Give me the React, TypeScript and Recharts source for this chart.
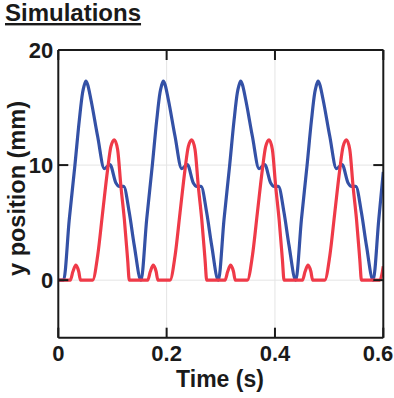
import { LineChart, Line, XAxis, YAxis, CartesianGrid } from "recharts";

// simulated traces (time in s, y in mm)
const blueT = [
  0,
  0.0098, 0.0203, 0.0307, 0.0388, 0.0449, 0.0477, 0.051, 0.0541, 0.0602, 0.0726, 0.0849, 0.0953, 0.1064, 0.1126, 0.1206, 0.1311, 0.1403,
  0.1527, 0.1632, 0.1736, 0.1817, 0.1878, 0.1906, 0.1939, 0.197, 0.2031, 0.2155, 0.2278, 0.2382, 0.2493, 0.2555, 0.2635, 0.274, 0.2832,
  0.2955, 0.306, 0.3164, 0.3245, 0.3306, 0.3334, 0.3367, 0.3398, 0.3459, 0.3583, 0.3706, 0.381, 0.3921, 0.3983, 0.4063, 0.4168, 0.426,
  0.4384, 0.4489, 0.4593, 0.4674, 0.4735, 0.4763, 0.4796, 0.4827, 0.4888, 0.5012, 0.5135, 0.5239, 0.535, 0.5412, 0.5492, 0.5597, 0.5689,
  0.5812, 0.5917, 0.6,
];
const blueY = [
  0,
  0, 5.3, 10, 13.9, 16.3, 16.9, 17.3, 17.0, 15.7, 12.5, 9.7, 10.05, 8.45, 8.15, 8.15, 5.85, 3.0,
  0, 5.3, 10, 13.9, 16.3, 16.9, 17.3, 17.0, 15.7, 12.5, 9.7, 10.05, 8.45, 8.15, 8.15, 5.85, 3.0,
  0, 5.3, 10, 13.9, 16.3, 16.9, 17.3, 17.0, 15.7, 12.5, 9.7, 10.05, 8.45, 8.15, 8.15, 5.85, 3.0,
  0, 5.3, 10, 13.9, 16.3, 16.9, 17.3, 17.0, 15.7, 12.5, 9.7, 10.05, 8.45, 8.15, 8.15, 5.85, 3.0,
  0, 5.3, 9.4,
];

const redT = [
  0,
  0.0222, 0.027, 0.0325, 0.0377, 0.041, 0.0633, 0.0726, 0.0818, 0.091, 0.0971, 0.1034, 0.1095, 0.1156, 0.1219, 0.128, 0.1311,
  0.1651, 0.1699, 0.1754, 0.1806, 0.1839, 0.2062, 0.2155, 0.2247, 0.2339, 0.24, 0.2463, 0.2524, 0.2585, 0.2648, 0.2709, 0.274,
  0.3079, 0.3127, 0.3182, 0.3234, 0.3267, 0.349, 0.3583, 0.3675, 0.3767, 0.3828, 0.3891, 0.3952, 0.4013, 0.4076, 0.4137, 0.4168,
  0.4508, 0.4556, 0.4611, 0.4663, 0.4696, 0.4919, 0.5012, 0.5104, 0.5196, 0.5257, 0.532, 0.5381, 0.5442, 0.5505, 0.5566, 0.5597,
  0.5936, 0.5984, 0.6,
];
const redY = [
  0,
  0, 0.75, 1.3, 0.75, 0, 0, 2.1, 5.85, 9.6, 11.6, 12.2, 11.35, 8.15, 5.3, 1.8, 0,
  0, 0.75, 1.3, 0.75, 0, 0, 2.1, 5.85, 9.6, 11.6, 12.2, 11.35, 8.15, 5.3, 1.8, 0,
  0, 0.75, 1.3, 0.75, 0, 0, 2.1, 5.85, 9.6, 11.6, 12.2, 11.35, 8.15, 5.3, 1.8, 0,
  0, 0.75, 1.3, 0.75, 0, 0, 2.1, 5.85, 9.6, 11.6, 12.2, 11.35, 8.15, 5.3, 1.8, 0,
  0, 0.75, 1.2,
];

const xTicks = [0, 0.2, 0.4, 0.6];
const yTicks = [0, 10, 20];

const blueData = blueT.map((t, i) => ({ t, y: blueY[i] }));
const redData = redT.map((t, i) => ({ t, y: redY[i] }));

const FONT = "'Liberation Sans', Arial, Helvetica, sans-serif";
const INK = "#1a1a1a";
const TICK = 10;

const fmtX = (v: number) => (v === 0 ? "0" : v.toFixed(1));

function BottomTick({ x, y, payload }: any) {
  const last = payload.value === 0.6;
  return (
    <g>
      <line x1={x} x2={x} y1={y} y2={y - TICK} stroke={INK} strokeWidth={2} />
      <text
        x={last ? x + 10 : x}
        y={y + 23}
        textAnchor={last ? "end" : "middle"}
        fontFamily={FONT}
        fontWeight="bold"
        fontSize={22}
        fill={INK}
      >
        {fmtX(payload.value)}
      </text>
    </g>
  );
}

function TopTick({ x, y }: any) {
  return <line x1={x} x2={x} y1={y} y2={y + TICK} stroke={INK} strokeWidth={2} />;
}

function LeftTick({ x, y, payload }: any) {
  return (
    <g>
      <line x1={x} x2={x + TICK} y1={y} y2={y} stroke={INK} strokeWidth={2} />
      <text x={x - 5} y={y + 7.5} textAnchor="end" fontFamily={FONT} fontWeight="bold" fontSize={22} fill={INK}>
        {payload.value}
      </text>
    </g>
  );
}

function RightTick({ x, y }: any) {
  return <line x1={x} x2={x - TICK} y1={y} y2={y} stroke={INK} strokeWidth={2} />;
}

const axisLine = { stroke: INK, strokeWidth: 2 };

export default function App() {
  return (
    <div style={{ position: "absolute", left: 0, top: 0, width: 394, height: 398, background: "#fff" }}>
      <LineChart width={394} height={398} margin={{ top: 49, right: 9.7, bottom: 59.3, left: 57.3 }}>
        <CartesianGrid stroke="#e4e4e4" strokeWidth={1} />
        <XAxis
          dataKey="t"
          type="number"
          domain={[0, 0.6]}
          ticks={xTicks}
          allowDataOverflow
          height={1}
          tickSize={0}
          tickMargin={0}
          interval={0}
          tickLine={false}
          axisLine={axisLine}
          tick={BottomTick}
        />
        <XAxis
          xAxisId="top"
          orientation="top"
          dataKey="t"
          type="number"
          domain={[0, 0.6]}
          ticks={xTicks}
          allowDataOverflow
          height={1}
          tickSize={0}
          tickMargin={0}
          interval={0}
          tickLine={false}
          axisLine={axisLine}
          tick={TopTick}
        />
        <YAxis
          type="number"
          domain={[-5, 20]}
          ticks={yTicks}
          allowDataOverflow
          width={1}
          tickSize={0}
          tickMargin={0}
          interval={0}
          tickLine={false}
          axisLine={axisLine}
          tick={LeftTick}
        />
        <YAxis
          yAxisId="right"
          orientation="right"
          type="number"
          domain={[-5, 20]}
          ticks={yTicks}
          allowDataOverflow
          width={1}
          tickSize={0}
          tickMargin={0}
          interval={0}
          tickLine={false}
          axisLine={axisLine}
          tick={RightTick}
        />
        <Line data={blueData} dataKey="y" type="monotone" stroke="#3451a6" strokeWidth={3.2} dot={false} isAnimationActive={false} />
        <Line data={redData} dataKey="y" type="monotone" stroke="#ef3a48" strokeWidth={3.2} dot={false} isAnimationActive={false} />
      </LineChart>
      <svg width={394} height={398} style={{ position: "absolute", left: 0, top: 0, pointerEvents: "none" }}>
        <text x={5} y={21} fontFamily={FONT} fontWeight="bold" fontSize={24} fill={INK} textDecoration="underline">
          Simulations
        </text>
        <text x={220} y={387} textAnchor="middle" fontFamily={FONT} fontWeight="bold" fontSize={23} fill={INK}>
          Time (s)
        </text>
        <text
          transform="translate(25,188.5) rotate(-90)"
          textAnchor="middle"
          fontFamily={FONT}
          fontWeight="bold"
          fontSize={23.5}
          fill={INK}
        >
          y position (mm)
        </text>
      </svg>
    </div>
  );
}
